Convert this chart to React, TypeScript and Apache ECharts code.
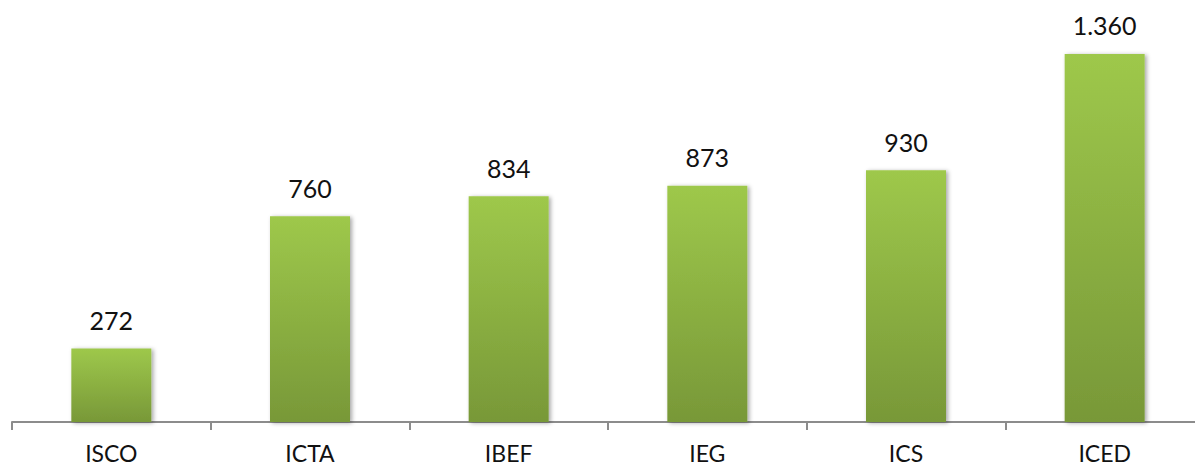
import React, { useEffect, useRef } from "react";
import * as echarts from "echarts";

const categories = ["ISCO", "ICTA", "IBEF", "IEG", "ICS", "ICED"];
const values = [272, 760, 834, 873, 930, 1360];
const valueLabels = ["272", "760", "834", "873", "930", "1.360"];

export default function App() {
  const ref = useRef<HTMLDivElement>(null);
  useEffect(() => {
    if (!ref.current) return;
    const chart = echarts.init(ref.current, null, { renderer: "svg" });
    chart.setOption({
      animation: false,
      grid: {
        left: 12,
        width: 1192,
        top: 16,
        bottom: 46,
        containLabel: false,
        outerBoundsMode: "none",
      },
      xAxis: {
        type: "category",
        data: categories,
        axisLine: { lineStyle: { color: "#8c8c8c", width: 2 } },
        axisTick: { show: true, length: 8, alignWithLabel: false, lineStyle: { color: "#8c8c8c", width: 2 } },
        axisLabel: { color: "#111", fontSize: 23, lineHeight: 22, fontFamily: "Lato", margin: 20 },
      },
      yAxis: {
        type: "value",
        min: 0,
        max: 1500,
        show: false,
        splitLine: { show: false },
      },
      series: [
        {
          type: "bar",
          data: values,
          barWidth: 80,
          itemStyle: {
            color: new echarts.graphic.LinearGradient(0, 0, 0, 1, [
              { offset: 0, color: "#9ec84b" },
              { offset: 1, color: "#789838" },
            ]),
            shadowBlur: 4,
            shadowColor: "rgba(0,0,0,0.35)",
            shadowOffsetX: 2,
            shadowOffsetY: 1,
          },
          label: {
            show: true,
            position: "top",
            distance: 16,
            color: "#111",
            fontSize: 25,
            fontFamily: "Lato",
            formatter: (p: any) => valueLabels[p.dataIndex],
          },
        },
      ],
    });
    return () => chart.dispose();
  }, []);
  return (
    <div
      ref={ref}
      style={{ position: "fixed", left: 0, top: 0, width: 1195, height: 468, background: "#fff" }}
    />
  );
}
